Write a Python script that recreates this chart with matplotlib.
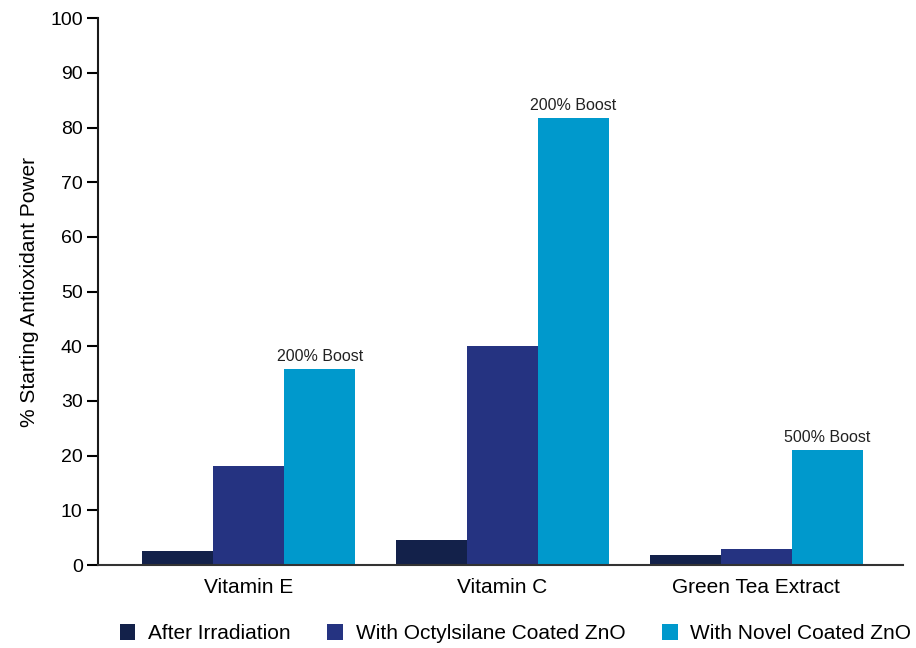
import numpy as np
import matplotlib
matplotlib.use("Agg")
import matplotlib.pyplot as plt
from matplotlib.patches import Patch

plt.rcParams['font.family'] = ['Liberation Sans', 'DejaVu Sans']

categories = ["Vitamin E", "Vitamin C", "Green Tea Extract"]
series_names = ["After Irradiation", "With Octylsilane Coated ZnO", "With Novel Coated ZnO"]
after_irradiation = [2.5, 4.6, 1.8]
octylsilane_zno = [18.1, 40.0, 2.9]
novel_zno = [35.8, 81.7, 21.0]
boost_labels = ["200% Boost", "200% Boost", "500% Boost"]
colors = ["#13214a", "#253381", "#0099cc"]

fig = plt.figure(figsize=(9.16, 6.48), dpi=100)
ax = fig.add_axes([0.107, 0.128, 0.879, 0.844])

x = np.arange(len(categories))
w = 0.28
series = [after_irradiation, octylsilane_zno, novel_zno]
for i, (vals, c) in enumerate(zip(series, colors)):
    ax.bar(x + (i - 1) * w, vals, width=w, color=c, linewidth=0)

for xi, v, lab in zip(x, novel_zno, boost_labels):
    ax.text(xi + w, v + 1.0, lab, ha="center", va="bottom", fontsize=11.5, color="#222222")

ax.set_xlim(-0.594, 2.58)
ax.set_ylim(0, 100)
ax.set_yticks(np.arange(0, 101, 10))
ax.set_xticks(x)
ax.set_xticklabels(categories, fontsize=15)
ax.tick_params(axis="x", length=0, pad=9)
ax.tick_params(axis="y", direction="out", length=8, width=1.5, labelsize=14, pad=3)
for s in ["top", "right"]:
    ax.spines[s].set_visible(False)
ax.spines["left"].set_linewidth(1.5)
ax.spines["bottom"].set_linewidth(1.5)
ax.spines["left"].set_color("#1a1a1a")
ax.spines["bottom"].set_color("#333333")
ax.set_ylabel("% Starting Antioxidant Power", fontsize=15, labelpad=8)

handles = [Patch(facecolor=c, edgecolor="none") for c in colors]
fig.legend(handles, series_names, loc="center left", bbox_to_anchor=(0.1215, 0.022),
           ncol=3, frameon=False, fontsize=15, handlelength=0.75, handleheight=0.75,
           handletextpad=0.6, columnspacing=1.78, borderaxespad=0)

fig.savefig("out.png", dpi=100)
